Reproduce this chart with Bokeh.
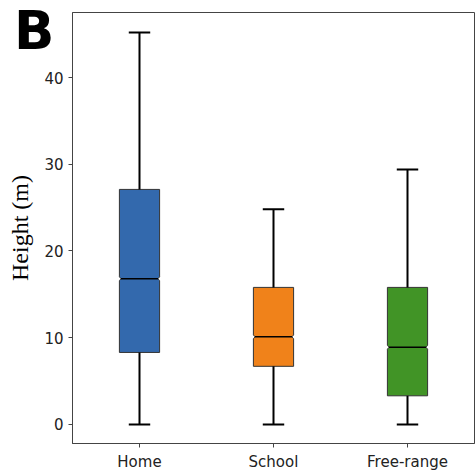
from bokeh.plotting import figure
from bokeh.models import FixedTicker, Div
from bokeh.layouts import column
from bokeh.embed import file_html
from bokeh.resources import INLINE

categories = ["Home", "School", "Free-range"]
q1 = [8.3, 6.7, 3.3]
median = [16.8, 10.1, 8.9]
q3 = [27.1, 15.8, 15.8]
lower = [0.0, 0.0, 0.0]
upper = [45.2, 24.8, 29.4]
colors = ["#3369ad", "#f0821a", "#419426"]
panel_letter = "B"

p = figure(x_range=categories, y_range=(-2.2, 47.5), width=475, height=476,
           output_backend="svg", toolbar_location=None,
           min_border_left=72, min_border_right=1, min_border_top=12, min_border_bottom=33)

p.xgrid.visible = False
p.ygrid.visible = False
p.outline_line_color = "#444444"
p.outline_line_width = 1

bw = 0.15   # half box width
nd = 0.012  # notch indent
nh = 0.22   # notch half-height
cap = 0.08

for i, c in enumerate(categories):
    xs = [(c, -bw), (c, bw), (c, bw), (c, bw - nd), (c, bw), (c, bw),
          (c, -bw), (c, -bw), (c, -bw + nd), (c, -bw)]
    ys = [q1[i], q1[i], median[i] - nh, median[i], median[i] + nh, q3[i],
          q3[i], median[i] + nh, median[i], median[i] - nh]
    p.patch(x=xs, y=ys, fill_color=colors[i], line_color="#333333", line_width=1)
    p.segment(x0=[(c, -bw + nd)], y0=[median[i]], x1=[(c, bw - nd)], y1=[median[i]],
              line_color="black", line_width=1.5)
    p.segment(x0=[c, c], y0=[q3[i], q1[i]], x1=[c, c], y1=[upper[i], lower[i]],
              line_color="black", line_width=2)
    p.segment(x0=[(c, -cap), (c, -cap)], y0=[upper[i], lower[i]],
              x1=[(c, cap), (c, cap)], y1=[upper[i], lower[i]],
              line_color="black", line_width=2)

p.yaxis.ticker = FixedTicker(ticks=[0, 10, 20, 30, 40])
for ax in (p.xaxis[0], p.yaxis[0]):
    ax.major_label_text_font = "DejaVu Sans"
    ax.major_label_text_font_size = "15px"
    ax.major_label_text_color = "#222222"
    ax.minor_tick_line_color = None
    ax.major_tick_in = 0
    ax.major_tick_out = 4
    ax.axis_line_color = "#444444"
    ax.major_tick_line_color = "#444444"

p.yaxis.axis_label = "Height (m)"
p.yaxis.axis_label_text_font = "Liberation Serif"
p.yaxis.axis_label_text_font_size = "24px"
p.yaxis.axis_label_text_font_style = "normal"
p.yaxis.axis_label_text_color = "black"
p.yaxis.axis_label_standoff = 8

letter = Div(text=panel_letter, width=40, height=55,
             styles={"position": "absolute", "left": "14px", "top": "4px",
                     "font-family": "DejaVu Sans", "font-weight": "bold",
                     "font-size": "53px", "line-height": "1", "margin": "0",
                     "padding": "0", "color": "black", "z-index": "10"})

layout = column(p, letter)
open("out.html", "w").write(file_html(layout, INLINE))
